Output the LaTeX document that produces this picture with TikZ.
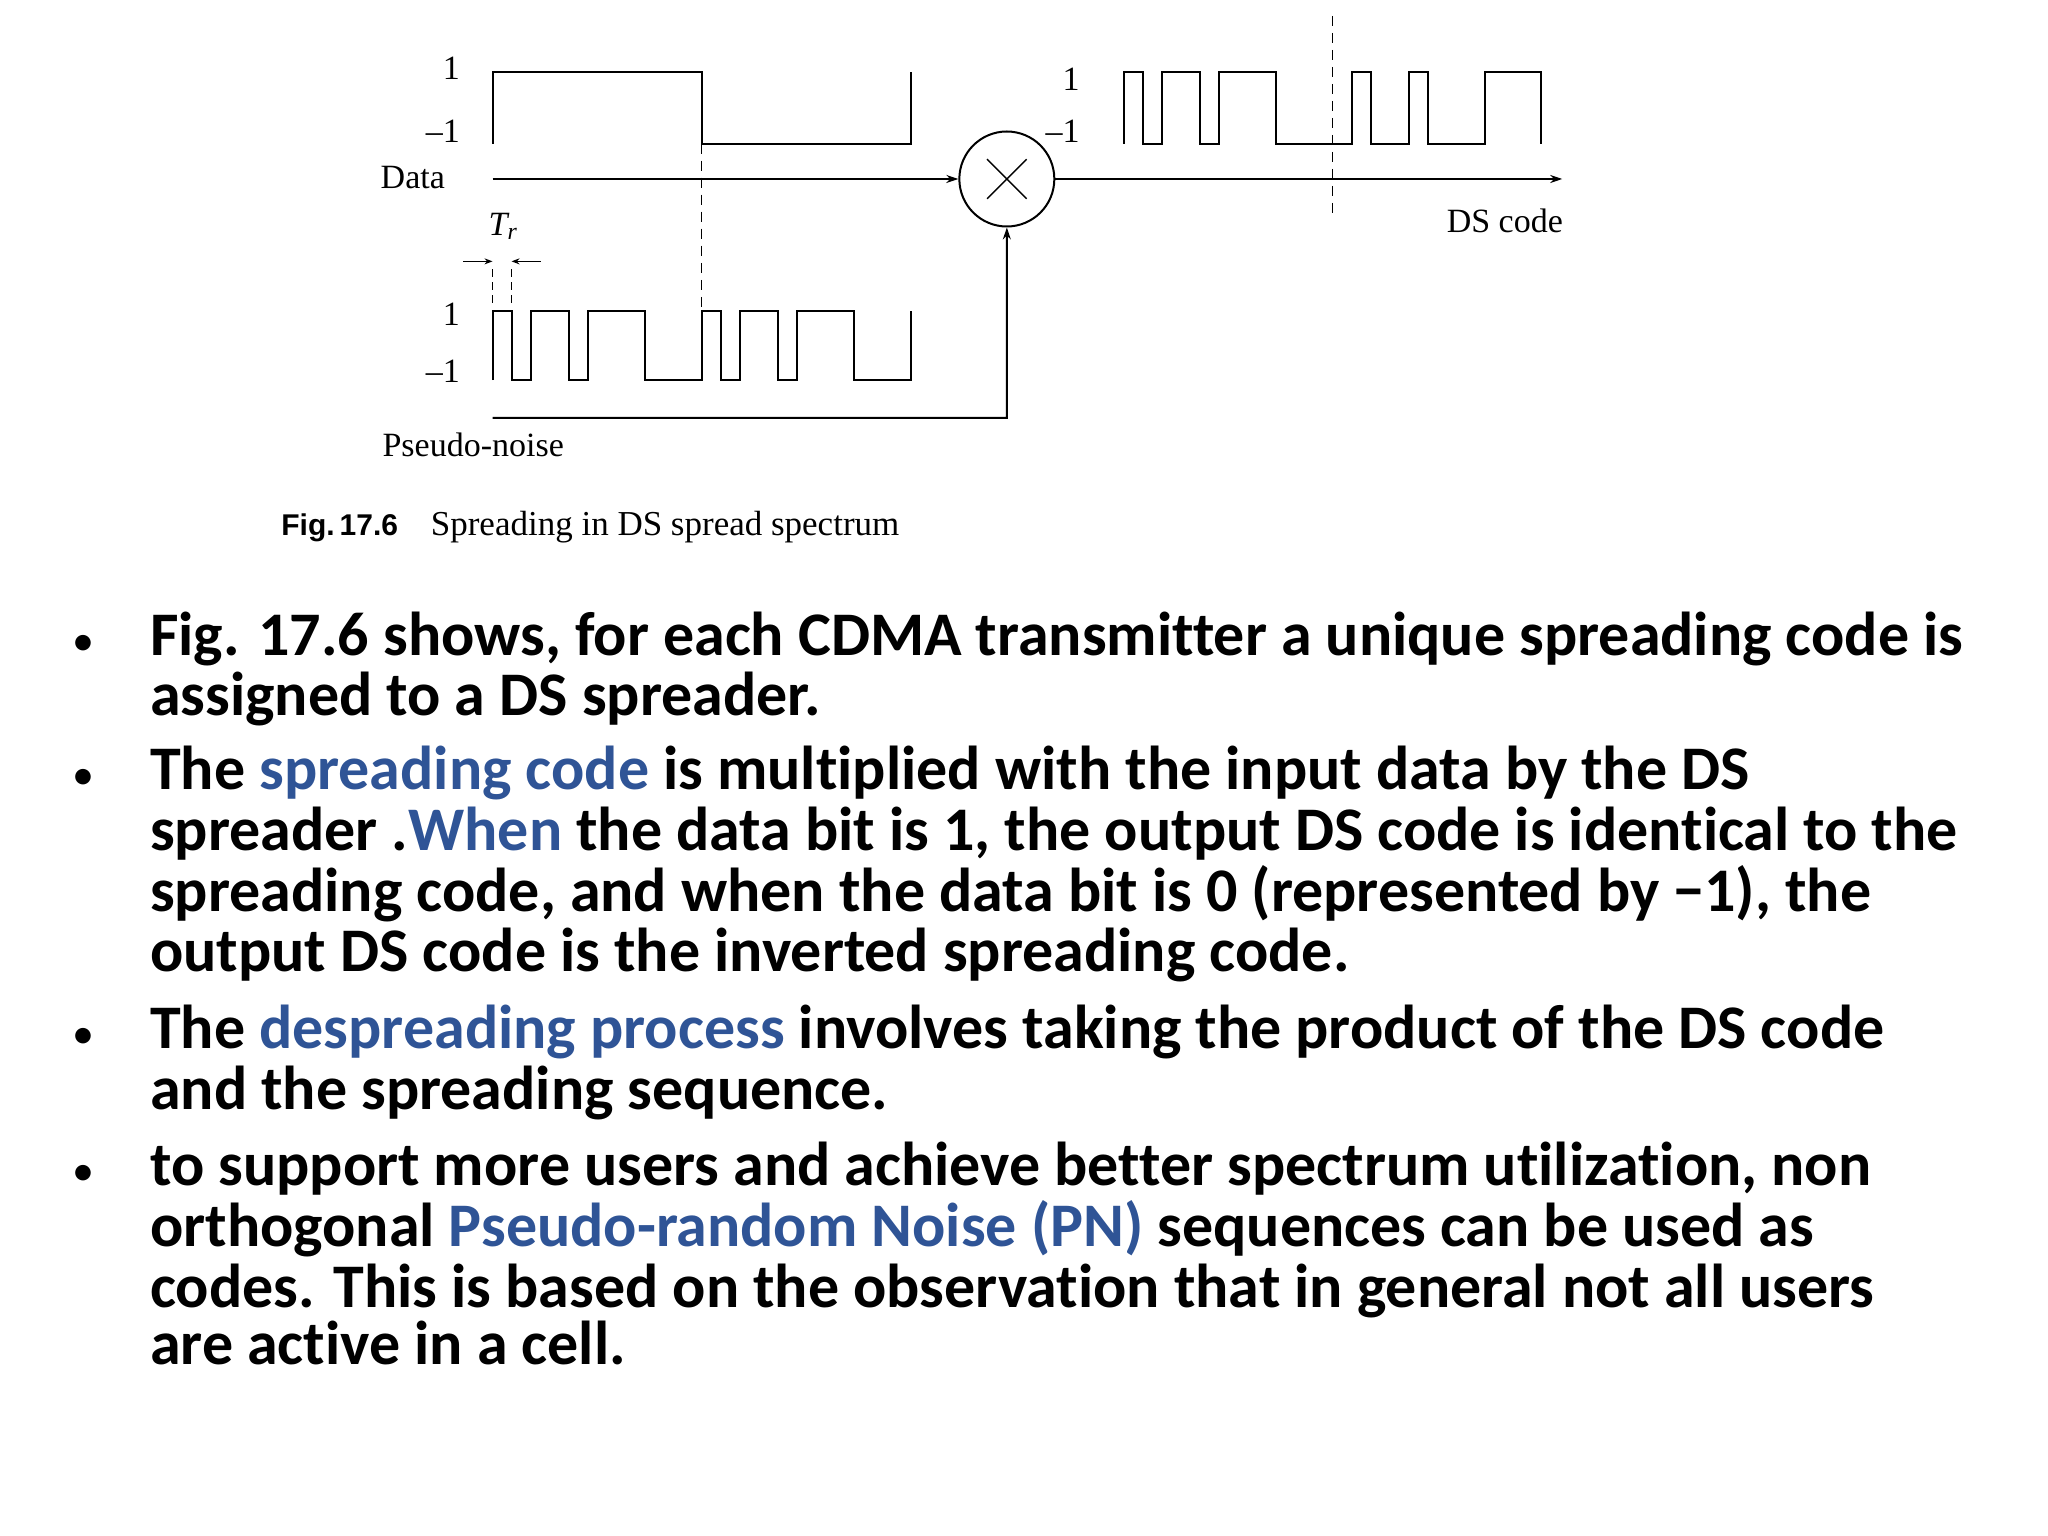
\documentclass[tikz,border=0pt]{standalone}
\usepackage{fontspec}
\setmainfont{Liberation Serif}
\newfontfamily\bodyfont[Ligatures=NoCommon]{Carlito}
\newfontfamily\capsans{Liberation Sans}
\usetikzlibrary{arrows.meta}
\definecolor{hl}{RGB}{47,84,150}
\newcommand{\hlt}[1]{\textcolor{hl}{#1}}
\begin{document}
\begin{tikzpicture}[x=1pt,y=-1pt,
  wave/.style={line width=2pt},
  lbl/.style={font=\fontsize{34}{36}\selectfont},
  dsh/.style={line width=1.8pt,dash pattern=on 10pt off 7pt},
  body/.style={anchor=base west,inner sep=0pt,font=\bodyfont\bfseries\fontsize{62}{61}\selectfont},
  arr/.style={line width=2pt,-{Stealth[length=12pt,width=8pt]}}]
\useasboundingbox (0,0) rectangle (2048,1536);
\begin{scope}[scale=0.99]
% labels
\node[lbl,anchor=east] (d1) at (468,69) {1};
\node[lbl,anchor=east] (dm1) at (468,133) {–1};
\node[lbl] (data) at (417,179) {Data};
\node[lbl,anchor=east] (p1) at (468,317) {1};
\node[lbl,anchor=east] (pm1) at (468,375) {–1};
\node[lbl] (pn) at (478,449) {Pseudo-noise};
\node[lbl,anchor=east] (o1) at (1094,80) {1};
\node[lbl,anchor=east] (om1) at (1094,133) {–1};
\node[lbl] (ds) at (1520,223) {DS code};
\node[lbl] (tr) at (508,229) {\itshape T\textsubscript{r}};
% data wave
\draw[wave] (497.5,145.2)--(497.5,72.6)--(708.6,72.6)--(708.6,145.2)--(919.8,145.2)--(919.8,72.6);
% PN wave
\draw[wave] (497.5,384)--(497.5,314)--(516.7,314)--(516.7,384)--(535.9,384)--(535.9,314)--(574.3,314)--(574.3,384)--(593.5,384)--(593.5,314)--(651.1,314)--(651.1,384)--(708.6,384)--(708.6,314)--(727.8,314)--(727.8,384)--(747.0,384)--(747.0,314)--(785.4,314)--(785.4,384)--(804.6,384)--(804.6,314)--(862.2,314)--(862.2,384)--(919.8,384)--(919.8,314);
% DS wave
\draw[wave] (1134.9,145.2)--(1134.9,72.6)--(1154.1,72.6)--(1154.1,145.2)--(1173.3,145.2)--(1173.3,72.6)--(1211.7,72.6)--(1211.7,145.2)--(1230.9,145.2)--(1230.9,72.6)--(1288.4,72.6)--(1288.4,145.2)--(1365.2,145.2)--(1365.2,72.6)--(1384.4,72.6)--(1384.4,145.2)--(1422.8,145.2)--(1422.8,72.6)--(1442,72.6)--(1442,145.2)--(1499.5,145.2)--(1499.5,72.6)--(1557,72.6)--(1557,145.2);
% dashed
\draw[dsh] (708.6,145.2)--(708.6,314);
\draw[dsh] (1346,16)--(1346,222);
\draw[line width=1.5pt,dash pattern=on 8pt off 5pt] (497.5,272)--(497.5,306);
\draw[line width=1.5pt,dash pattern=on 8pt off 5pt] (516.7,272)--(516.7,306);
\draw[line width=1.5pt,-{Stealth[length=8pt,width=6pt]}] (468,264)--(497.5,264);
\draw[line width=1.5pt,-{Stealth[length=8pt,width=6pt]}] (546,264)--(516.7,264);
% multiplier
\node[draw,circle,line width=2pt,minimum size=95pt,inner sep=0pt] (mult) at (1017,180.8) {};
\draw[line width=1.5pt] (mult.center)++(-20,-20)--++(40,40);
\draw[line width=1.5pt] (mult.center)++(20,-20)--++(-40,40);
\coordinate (din) at (497.5,180.8);
\coordinate (pin) at (497.5,422);
\coordinate (pcorner) at (mult.south |- pin);
\coordinate (dout) at (1578,180.8);
\draw[arr] (din)--(mult.west);
\draw[arr] (pin)--(pcorner)--(mult.south);
\draw[arr] (mult.east)--(dout);
% caption
\node[anchor=base west,inner sep=0pt,font=\capsans\bfseries\fontsize{30}{34}\selectfont] (fig) at (284,541) {Fig.\,17.6};
\node[anchor=base west,inner sep=0pt,font=\fontsize{35}{38}\selectfont] (cap) at (435,541) {Spreading in DS spread spectrum};
\end{scope}
% bullets
\foreach \y in {655,789,1048,1185} \node[anchor=base west,inner sep=0pt,font=\bodyfont\fontsize{44}{44}\selectfont] at (72,\y) {•};
\node[body] (l1) at (150,655) {Fig. 17.6 shows, for each CDMA transmitter a unique spreading code is};
\node[body] (l2) at (150,715.5) {assigned to a DS spreader.};
\node[body] (l3) at (150,789) {The \hlt{spreading code} is multiplied with the input data by the DS};
\node[body] (l4) at (150,850) {spreader .\hlt{When} the data bit is 1, the output DS code is identical to the};
\node[body] (l5) at (150,911) {spreading code, and when the data bit is 0 (represented by −1), the};
\node[body] (l6) at (150,971.5) {output DS code is the inverted spreading code.};
\node[body] (l7) at (150,1048) {The \hlt{despreading process} involves taking the product of the DS code};
\node[body] (l8) at (150,1109) {and the spreading sequence.};
\node[body] (l9) at (150,1185) {to support more users and achieve better spectrum utilization, non};
\node[body] (l10) at (150,1246) {orthogonal \hlt{Pseudo-random Noise (PN)} sequences can be used as};
\node[body] (l11) at (150,1307) {codes. This is based on the observation that in general not all users};
\node[body] (l12) at (150,1364) {are active in a cell.};
\end{tikzpicture}
\end{document}
